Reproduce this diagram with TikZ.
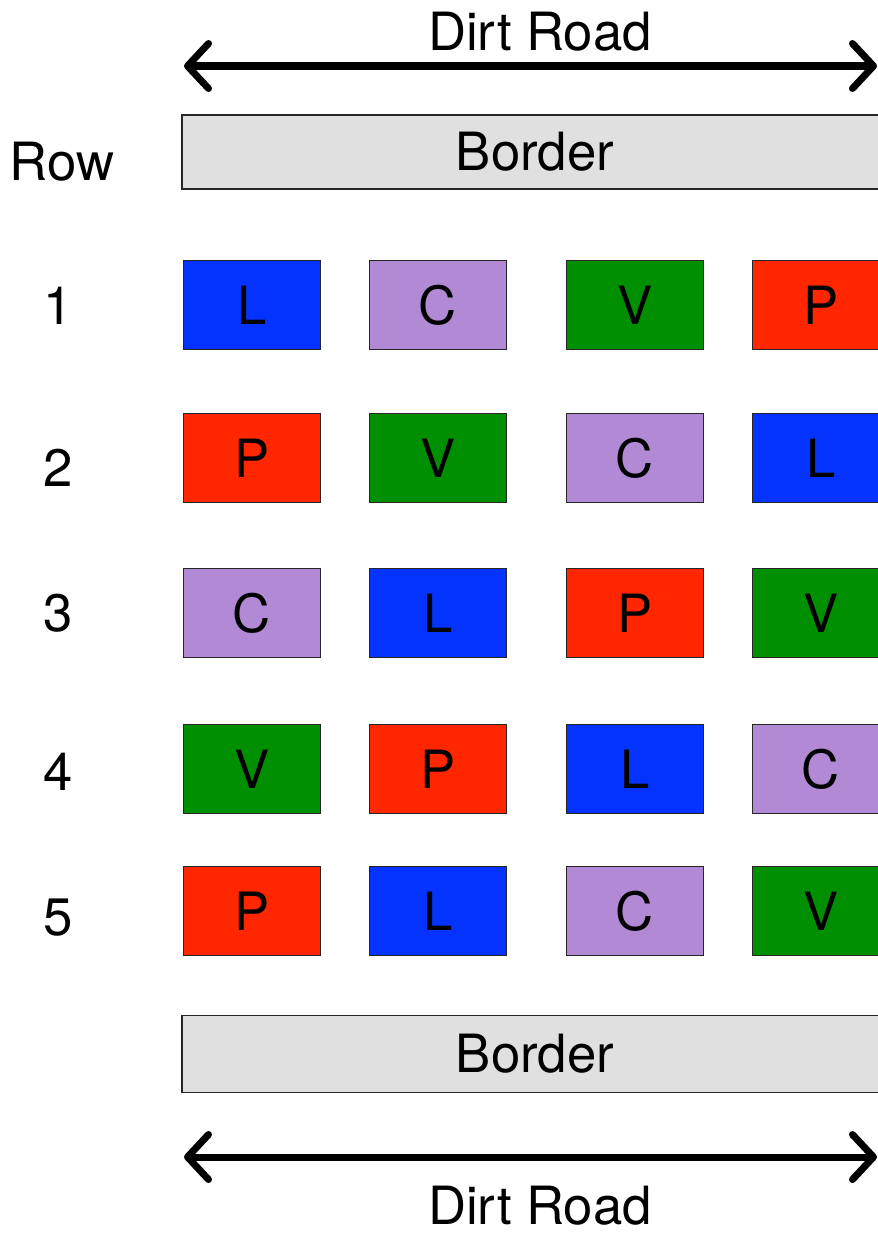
\documentclass[tikz,border=0pt]{standalone}
\usepackage{fontspec}
\setmainfont{TeX Gyre Heros}
\usetikzlibrary{arrows.meta}
\definecolor{plotL}{RGB}{4,51,255}
\definecolor{plotC}{RGB}{177,137,212}
\definecolor{plotV}{RGB}{0,143,0}
\definecolor{plotP}{RGB}{255,38,0}
\definecolor{stripgray}{RGB}{224,224,224}

\begin{document}
\begin{tikzpicture}[x=0.02cm,y=-0.02cm,font=\fontsize{30}{36}\selectfont,
  plot/.style={draw=black!85,line width=1pt,minimum width=2.74cm,minimum height=1.78cm,inner sep=0pt},
  strip/.style={draw=black!85,fill=stripgray,line width=1pt,minimum width=14.12cm,inner sep=0pt},
  road/.style={line width=4pt,line cap=round,{Straight Barb[length=0.42cm,width=0.9cm,round]}-{Straight Barb[length=0.42cm,width=0.9cm,round]}}]
\useasboundingbox (0,0) rectangle (878,1235);
\clip (0,0) rectangle (878,1235);
% roads
\node (roadtop) at (540,32) {Dirt Road};
\coordinate (rtl) at (184,66);
\coordinate (rtr) at (877,66);
\draw[road] (rtl) -- (rtr);
\node (roadbot) at (540,1206) {Dirt Road};
\coordinate (rbl) at (184,1157);
\coordinate (rbr) at (877,1157);
\draw[road] (rbl) -- (rbr);
% borders
\node[strip,minimum height=1.48cm] (bordtop) at (535,152) {\raisebox{-0.1cm}{Border}};
\node[strip,minimum height=1.54cm] (bordbot) at (535,1054) {\raisebox{-0.06cm}{Border}};
% row labels
\node (rowlab) at (62,162) {Row};
\foreach \r/\y in {1/306,2/468,3/613,4/772,5/918}{ \node (row\r) at (58,\y) {\r}; }
% plots
\foreach \r/\k/\t in {1/1/L,1/2/C,1/3/V,1/4/P,
                      2/1/P,2/2/V,2/3/C,2/4/L,
                      3/1/C,3/2/L,3/3/P,3/4/V,
                      4/1/V,4/2/P,4/3/L,4/4/C,
                      5/1/P,5/2/L,5/3/C,5/4/V}{
  \pgfmathsetmacro\px{{252,438,635,821}[\k-1]}
  \pgfmathsetmacro\py{{305,458,613,769,911}[\r-1]}
  \node[plot,fill=plot\t] (p\r\k) at (\px,\py) {\t};
}
\end{tikzpicture}
\end{document}
